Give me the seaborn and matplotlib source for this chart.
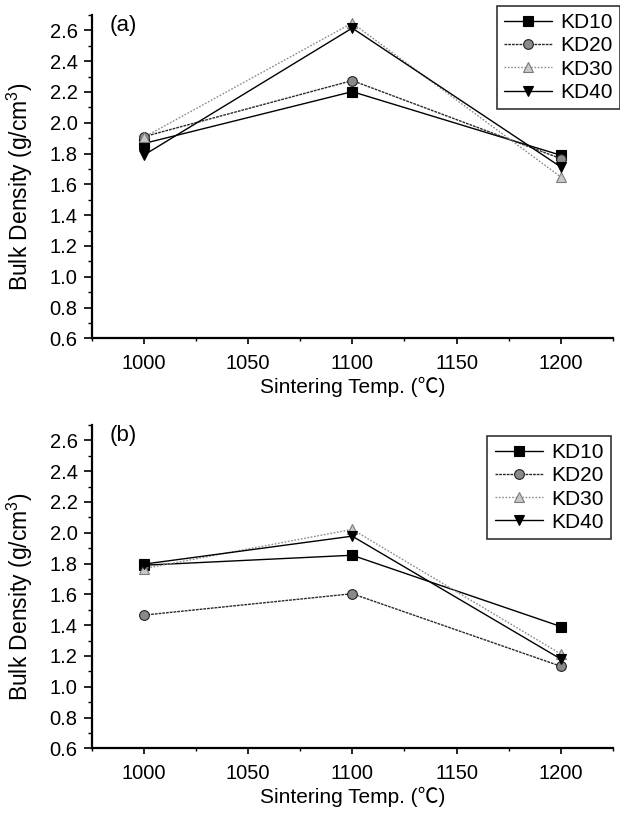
"""
Bulk density vs sintering temperature for KD10-KD40, two panels (a) and (b).
"""

import pandas as pd
import seaborn as sns
import matplotlib.pyplot as plt
from matplotlib.ticker import MultipleLocator

# Data
temps = [1000, 1100, 1200]
series_names = ["KD10", "KD20", "KD30", "KD40"]

density_a_kd10 = [1.865, 2.202, 1.789]
density_a_kd20 = [1.909, 2.274, 1.767]
density_a_kd30 = [1.905, 2.648, 1.648]
density_a_kd40 = [1.789, 2.615, 1.713]

density_b_kd10 = [1.789, 1.854, 1.391]
density_b_kd20 = [1.465, 1.604, 1.133]
density_b_kd30 = [1.767, 2.022, 1.213]
density_b_kd40 = [1.796, 1.978, 1.180]

panel_labels = ["(a)", "(b)"]

sns.set_style("ticks")
plt.rcParams["font.family"] = ["Liberation Sans", "Noto Sans CJK SC", "DejaVu Sans"]
plt.rcParams["mathtext.default"] = "regular"
for key in ["text.color", "axes.labelcolor", "xtick.color", "ytick.color", "axes.edgecolor"]:
    plt.rcParams[key] = "black"


def to_long(vals_list):
    rows = []
    for name, vals in zip(series_names, vals_list):
        for t, v in zip(temps, vals):
            rows.append({"Temp": t, "Density": v, "Sample": name})
    return pd.DataFrame(rows)


df_a = to_long([density_a_kd10, density_a_kd20, density_a_kd30, density_a_kd40])
df_b = to_long([density_b_kd10, density_b_kd20, density_b_kd30, density_b_kd40])

# line / marker look per series
styles = {
    "KD10": dict(color="black", marker="s", ls="-", mfc="black", mec="black"),
    "KD20": dict(color="#2a2a2a", marker="o", ls=(0, (2, 0.7)), mfc="#8a8a8a", mec="#222222"),
    "KD30": dict(color="#8c8c8c", marker="^", ls=(0, (1.2, 1.2)), mfc="#c8c8c8", mec="#7a7a7a"),
    "KD40": dict(color="black", marker="v", ls="-", mfc="black", mec="black"),
}

fig = plt.figure(figsize=(6.2, 8.14), dpi=100)
ax_a = fig.add_axes([0.1476, 0.5844, 0.841, 0.3972])
ax_b = fig.add_axes([0.1476, 0.0807, 0.841, 0.3972])

legend_anchor = [(1.0, 0.9926), (0.985, 0.4644)]

for ax, df, lab, anchor in zip([ax_a, ax_b], [df_a, df_b], panel_labels, legend_anchor):
    for name in series_names:
        st = styles[name]
        sns.lineplot(data=df[df["Sample"] == name], x="Temp", y="Density", ax=ax,
                     color=st["color"], marker=st["marker"], linestyle=st["ls"],
                     markerfacecolor=st["mfc"], markeredgecolor=st["mec"],
                     markersize=7, markeredgewidth=0.8, linewidth=1.0, label=name)

    ax.set_xlim(975, 1225)
    ax.set_ylim(0.6, 2.7)
    ax.xaxis.set_major_locator(MultipleLocator(50))
    ax.xaxis.set_minor_locator(MultipleLocator(25))
    ax.yaxis.set_major_locator(MultipleLocator(0.2))
    ax.yaxis.set_minor_locator(MultipleLocator(0.1))
    ax.yaxis.set_major_formatter(plt.FormatStrFormatter("%.1f"))

    sns.despine(ax=ax)
    ax.spines["left"].set_linewidth(1.6)
    ax.spines["bottom"].set_linewidth(1.6)
    ax.tick_params(axis="y", which="major", direction="out", length=6, width=1.2,
                   labelsize=14.5, pad=4)
    ax.tick_params(axis="y", which="minor", direction="out", length=3, width=1.0)
    ax.tick_params(axis="x", which="major", direction="out", length=4, width=1.2,
                   labelsize=14.5, pad=7)
    ax.tick_params(axis="x", which="minor", direction="out", length=2.5, width=1.0)

    ax.set_xlabel("Sintering Temp. (\u2103)", fontsize=15, labelpad=3)
    ax.set_ylabel("Bulk Density (g/cm$^3$)", fontsize=16.5)
    ax.yaxis.set_label_coords(-0.108, 0.47)

    ax.text(0.035, 0.969, lab, transform=ax.transAxes, fontsize=16,
            ha="left", va="center")

    leg = ax.legend(loc="upper right", bbox_to_anchor=anchor,
                    bbox_transform=fig.transFigure, borderaxespad=0,
                    fontsize=15, frameon=True, fancybox=False,
                    handlelength=2.3, handletextpad=0.4, labelspacing=0.2,
                    borderpad=0.35)
    leg.get_frame().set_edgecolor("black")
    leg.get_frame().set_linewidth(1.2)

plt.savefig("out.png", dpi=100)
